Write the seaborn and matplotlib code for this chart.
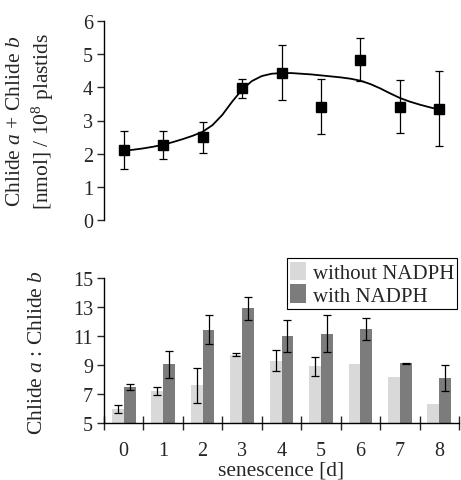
import numpy as np
import pandas as pd
import matplotlib
matplotlib.use("Agg")
import matplotlib.pyplot as plt
import seaborn as sns

# --- data ---
days = [0, 1, 2, 3, 4, 5, 6, 7, 8]

# top panel: total chlide content
total_mean = [2.11, 2.27, 2.49, 3.97, 4.44, 3.42, 4.83, 3.42, 3.36]
total_err = [0.58, 0.42, 0.46, 0.28, 0.83, 0.83, 0.65, 0.79, 1.12]

# fitted curve, read at quarter-day steps
curve_x = [0, 0.25, 0.5, 0.75, 1, 1.25, 1.5, 1.75, 2, 2.25, 2.5, 2.75, 3,
           3.25, 3.5, 3.75, 4, 4.25, 4.5, 4.75, 5, 5.25, 5.5, 5.75, 6,
           6.25, 6.5, 6.75, 7, 7.25, 7.5, 7.75, 8]
curve_y = [2.09, 2.12, 2.16, 2.21, 2.27, 2.35, 2.44, 2.54, 2.66, 2.86, 3.17,
           3.57, 3.93, 4.19, 4.34, 4.41, 4.43, 4.43, 4.41, 4.39, 4.36, 4.33,
           4.30, 4.26, 4.20, 4.10, 3.97, 3.82, 3.68, 3.57, 3.48, 3.40, 3.33]

# bottom panel: chlide a : chlide b ratio (nan = no error bar drawn)
ratio_without = [5.95, 7.2, 7.6, 9.72, 9.3, 8.9, 9.1, 8.17, 6.28]
err_without = [0.27, 0.27, 1.2, 0.12, 0.72, 0.65, np.nan, np.nan, np.nan]
ratio_with = [7.5, 9.06, 11.42, 12.91, 11.03, 11.17, 11.49, 9.13, 8.12]
err_with = [0.2, 0.93, 1.0, 0.78, 1.1, 1.25, 0.77, 0.04, 0.9]

groups = ["without NADPH", "with NADPH"]
colors = ["#d9d9d9", "#7c7c7c"]

# --- style ---
sns.set_style("ticks")
plt.rcParams["font.family"] = ["Liberation Serif", "DejaVu Serif"]
plt.rcParams["mathtext.fontset"] = "custom"
plt.rcParams["mathtext.rm"] = "Liberation Serif"
plt.rcParams["mathtext.it"] = "Liberation Serif:italic"
plt.rcParams["axes.linewidth"] = 1.0
plt.rcParams["axes.edgecolor"] = "black"
TICK_FS = 14.5
LABEL_FS = 15.5

W, H = 461, 481
fig = plt.figure(figsize=(W / 100, H / 100), dpi=100)

def frac_box(x0, y0, x1, y1):
    # pixel box -> figure fraction [left, bottom, width, height]
    return [x0 / W, 1 - y1 / H, (x1 - x0) / W, (y1 - y0) / H]

ax1 = fig.add_axes(frac_box(104, 22, 459, 221))
ax2 = fig.add_axes(frac_box(104, 279, 459, 424))

# --- top panel ---
sns.lineplot(x=curve_x, y=curve_y, ax=ax1, color="black", lw=1.3)
ax1.errorbar(days, total_mean, yerr=total_err, fmt="s", color="black",
             ms=7, elinewidth=0.9, capsize=3, capthick=0.9)
ax1.set_xlim(-0.5, 8.5)
ax1.set_ylim(0, 6)
ax1.set_yticks(range(0, 7))
ax1.tick_params(axis="y", labelsize=TICK_FS, length=5, width=1, pad=3)
ax1.set_xticks([])
for s in ["top", "right", "bottom"]:
    ax1.spines[s].set_visible(False)

fig.text(31 / W, 1 - 121 / H,
         "Chlide $\\it{a}$ + Chlide $\\it{b}$\n[nmol] / 10$^8$ plastids",
         rotation=90, ha="center", va="center", ma="center",
         fontsize=LABEL_FS, linespacing=1.3)

# --- bottom panel ---
df = pd.DataFrame({
    "day": days * 2,
    "ratio": ratio_without + ratio_with,
    "group": [groups[0]] * len(days) + [groups[1]] * len(days),
})
sns.barplot(data=df, x="day", y="ratio", hue="group", hue_order=groups,
            palette=colors, width=0.6, errorbar=None, ax=ax2,
            linewidth=0, saturation=1)

pos = np.arange(len(days))
for offset, vals, errs in [(-0.15, ratio_without, err_without),
                           (0.15, ratio_with, err_with)]:
    keep = [i for i, e in enumerate(errs) if not np.isnan(e)]
    ax2.errorbar(pos[keep] + offset, [vals[i] for i in keep],
                 yerr=[errs[i] for i in keep], fmt="none", ecolor="black",
                 elinewidth=0.9, capsize=3, capthick=0.9)

ax2.set_xlim(-0.5, 8.5)
ax2.set_ylim(5, 15)
ax2.set_yticks([5, 7, 9, 11, 13, 15])
ax2.tick_params(axis="y", labelsize=TICK_FS, length=5, width=1, pad=3)
ax2.set_xticks(pos)
ax2.set_xticklabels([str(d) for d in days])
ax2.set_xticks(np.arange(-0.5, 9.0, 1.0), minor=True)
ax2.tick_params(axis="x", which="major", length=0, labelsize=TICK_FS, pad=13)
ax2.tick_params(axis="x", which="minor", direction="inout", length=9.5, width=1)
ax2.set_xlabel("")
ax2.set_ylabel("")
for s in ["top", "right"]:
    ax2.spines[s].set_visible(False)

# axis titles placed in figure pixels to match the reference
fig.text(281 / W, 1 - 476 / H, "senescence [d]", ha="center", va="baseline",
         fontsize=LABEL_FS)
fig.text(37 / W, 1 - 353 / H, "Chlide $\\it{a}$ : Chlide $\\it{b}$",
         rotation=90, ha="center", va="center", fontsize=LABEL_FS)

handles, labels = ax2.get_legend_handles_labels()
leg = ax2.legend(handles, labels, loc="upper right",
                 bbox_to_anchor=(0.995, 1.135), fontsize=15,
                 frameon=True, fancybox=False, edgecolor="black",
                 framealpha=1, borderpad=0.15, handlelength=0.8,
                 handleheight=1.0, handletextpad=0.3, labelspacing=0.05,
                 borderaxespad=0)
leg.get_frame().set_linewidth(0.8)

fig.savefig("out.png", dpi=100)
